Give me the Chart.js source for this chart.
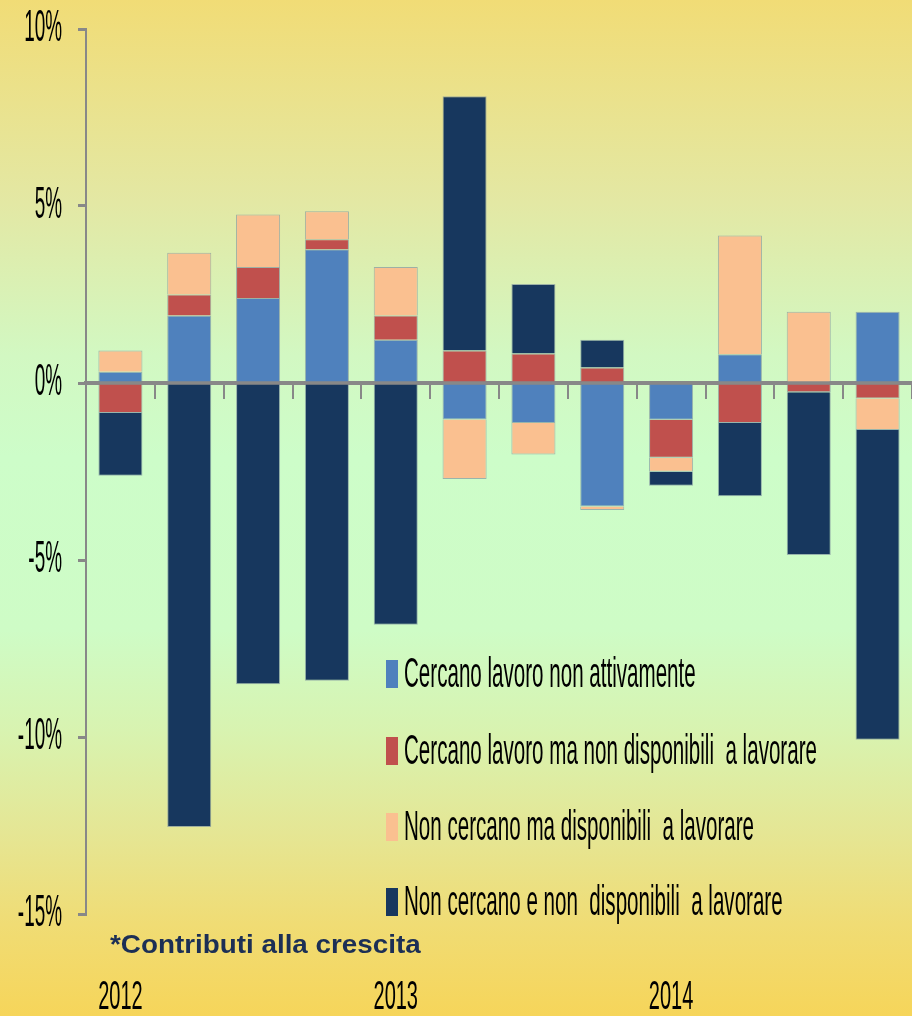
<!DOCTYPE html>
<html>
<head>
<meta charset="utf-8">
<script src="https://cdn.jsdelivr.net/npm/chart.js@4.4.1/dist/chart.umd.min.js"></script>
<style>
  html, body { margin: 0; padding: 0; }
  body {
    width: 912px; height: 1016px; overflow: hidden;
    background: linear-gradient(to bottom, #f1dc76 0%, #e3e8a4 20%, #d2f8c2 35%, #cdfdc9 45%, #cefcc6 62%, #d8f3b0 72%, #e5e694 82%, #f0dc74 91%, #f6d55a 100%);
  }
  canvas { display: block; }
</style>
</head>
<body>
<canvas id="mycanvas" width="912" height="1016"></canvas>
<script>
// trimestri 2012-2014
var quarters = ['2012 T1','2012 T2','2012 T3','2012 T4','2013 T1','2013 T2','2013 T3','2013 T4','2014 T1','2014 T2','2014 T3','2014 T4'];
var yearLabels = ['2012','','','','2013','','','','2014','','',''];

var seriesNames = [
	'Cercano lavoro non attivamente',
	'Cercano lavoro ma non disponibili  a lavorare',
	'Non cercano ma disponibili  a lavorare',
	'Non cercano e non  disponibili  a lavorare'
];

// contributi alla crescita (%)
var cercanoNonAttiv   = [0.32, 1.91, 2.40, 3.78, 1.22, -1.03, -1.13, -3.49, -1.04, 0.81, 0, 2.01];
var cercanoNonDispon  = [-0.85, 0.59, 0.88, 0.28, 0.69, 0.92, 0.83, 0.44, -1.07, -1.13, -0.26, -0.44];
var nonCercanoDispon  = [0.60, 1.18, 1.48, 0.79, 1.37, -1.68, -0.89, -0.10, -0.40, 3.36, 2.01, -0.89];
var nonCercanoNonDisp = [-1.77, -12.54, -8.51, -8.41, -6.83, 7.18, 1.97, 0.78, -0.39, -2.07, -4.60, -8.75];

var yTicks = [10, 5, 0, -5, -10, -15];
var note = '*Contributi alla crescita';

var colors = ['#4f81bd', '#c0504d', '#fac090', '#17375e'];

function condText(ctx, txt, x, y, size, sx, align, weight, color) {
	ctx.save();
	ctx.translate(x, y);
	ctx.scale(sx, 1);
	ctx.font = weight + ' ' + size + 'px "Liberation Sans", Arial, sans-serif';
	ctx.textAlign = align;
	ctx.textBaseline = 'middle';
	ctx.fillStyle = color;
	ctx.fillText(txt, 0, 0);
	ctx.restore();
}

var textPlugin = {
	id: 'textPlugin',
	afterDraw: function(chart) {
		var ctx = chart.ctx;
		var y = chart.scales.y;
		var x = chart.scales.x;

		// etichette asse y
		y.ticks.forEach(function(t) {
			condText(ctx, t.value + '%', 62, y.getPixelForValue(t.value), 44, 0.43, 'right', 'normal', '#000');
		});

		// legenda
		var rows = [674, 751, 827, 902];
		chart.data.datasets.forEach(function(ds, i) {
			ctx.fillStyle = ds.backgroundColor;
			ctx.fillRect(386, rows[i] - 14, 12, 28);
			condText(ctx, ds.label, 404, rows[i] + 1, 42, 0.49, 'left', 'normal', '#000');
		});

		// nota
		condText(ctx, note, 110, 946, 26, 1.07, 'left', 'bold', '#1c2f55');

		// anni
		yearLabels.forEach(function(lab, i) {
			if (lab) condText(ctx, lab, x.getPixelForValue(i), 998, 40, 0.5, 'center', 'normal', '#000');
		});
	}
};

var chartdata = {
	labels: quarters,
	datasets: [cercanoNonAttiv, cercanoNonDispon, nonCercanoDispon, nonCercanoNonDisp].map(function(vals, i) {
		return {
			label: seriesNames[i],
			data: vals,
			backgroundColor: colors[i],
			borderColor: 'rgba(130,150,160,0.7)',
			borderWidth: 1,
			barPercentage: 0.64,
			categoryPercentage: 1
		};
	})
};

var barGraph = new Chart(document.getElementById('mycanvas'), {
	type: 'bar',
	data: chartdata,
	plugins: [textPlugin],
	options: {
		responsive: false,
		animation: false,
		devicePixelRatio: 1,
		layout: { padding: { left: 78, top: 29, right: 0, bottom: 102 } },
		plugins: {
			legend: { display: false },
			tooltip: { enabled: false }
		},
		scales: {
			x: {
				type: 'category',
				stacked: true,
				position: { y: 0 },
				grid: { offset: true, drawOnChartArea: false, tickLength: 14, color: '#888', lineWidth: 2 },
				border: { display: true, color: '#888', width: 4 },
				ticks: { display: false }
			},
			y: {
				stacked: true,
				min: -15,
				max: 10,
				afterBuildTicks: function(scale) {
					scale.ticks = yTicks.map(function(v) { return { value: v }; });
				},
				grid: { drawOnChartArea: false, tickLength: 8, color: '#888', lineWidth: 3 },
				border: { display: true, color: '#888', width: 2 },
				ticks: { display: false }
			}
		}
	}
});
</script>
</body>
</html>
